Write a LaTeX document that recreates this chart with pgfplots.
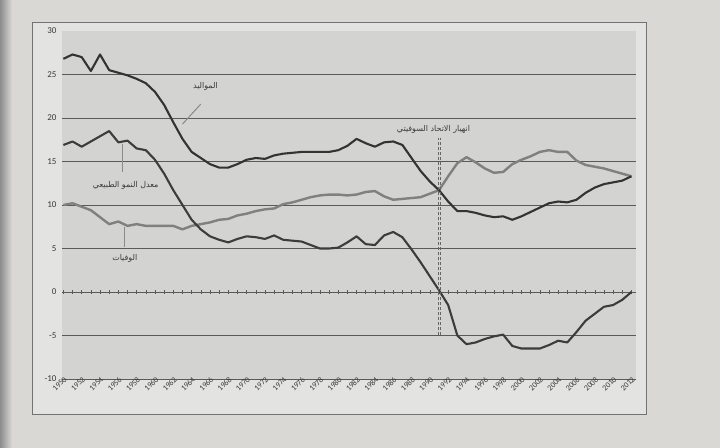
\documentclass[border=0pt]{standalone}
\usepackage{fontspec}
\usepackage{pgfplots}
\usepackage{pgfplotstable}
\pgfplotsset{compat=1.18}
\setmainfont{Carlito}
\newfontfamily\arabicfont[Script=Arabic]{DejaVu Sans}
\TeXXeTstate=1
\definecolor{pagecol}{HTML}{D9D8D5}
\definecolor{chartbg}{HTML}{E3E3E1}
\definecolor{plotbg}{HTML}{D3D3D1}
\definecolor{gridcol}{HTML}{5A5A5A}
\definecolor{birthcol}{HTML}{333333}
\definecolor{deathcol}{HTML}{808080}
\definecolor{growthcol}{HTML}{3C3C3C}
\definecolor{txtcol}{HTML}{3A3A3A}
\definecolor{pointcol}{HTML}{8A8A8A}

\pgfplotstableread{
year births deaths growth
1950 26.8 10.0 16.9
1951 27.3 10.2 17.3
1952 27.0 9.8 16.7
1953 25.4 9.4 17.3
1954 27.3 8.6 17.9
1955 25.5 7.8 18.5
1956 25.2 8.1 17.2
1957 24.9 7.6 17.4
1958 24.5 7.8 16.5
1959 24.0 7.6 16.3
1960 23.0 7.6 15.2
1961 21.5 7.6 13.6
1962 19.5 7.6 11.7
1963 17.6 7.2 10.0
1964 16.1 7.6 8.3
1965 15.4 7.8 7.2
1966 14.7 8.0 6.4
1967 14.3 8.3 6.0
1968 14.3 8.4 5.7
1969 14.7 8.8 6.1
1970 15.2 9.0 6.4
1971 15.4 9.3 6.3
1972 15.3 9.5 6.1
1973 15.7 9.6 6.5
1974 15.9 10.1 6.0
1975 16.0 10.3 5.9
1976 16.1 10.6 5.8
1977 16.1 10.9 5.4
1978 16.1 11.1 5.0
1979 16.1 11.2 5.0
1980 16.3 11.2 5.1
1981 16.8 11.1 5.7
1982 17.6 11.2 6.4
1983 17.1 11.5 5.5
1984 16.7 11.6 5.4
1985 17.2 11.0 6.5
1986 17.3 10.6 6.9
1987 16.9 10.7 6.3
1988 15.4 10.8 4.9
1989 13.9 10.9 3.4
1990 12.7 11.3 1.8
1991 11.7 11.7 0.2
1992 10.4 13.3 -1.5
1993 9.3 14.8 -5.0
1994 9.3 15.5 -6.0
1995 9.1 14.9 -5.8
1996 8.8 14.2 -5.4
1997 8.6 13.7 -5.1
1998 8.7 13.8 -4.9
1999 8.3 14.7 -6.2
2000 8.7 15.2 -6.5
2001 9.2 15.6 -6.5
2002 9.7 16.1 -6.5
2003 10.2 16.3 -6.1
2004 10.4 16.1 -5.6
2005 10.3 16.1 -5.8
2006 10.6 15.1 -4.6
2007 11.4 14.6 -3.3
2008 12.0 14.4 -2.5
2009 12.4 14.2 -1.7
2010 12.6 13.9 -1.5
2011 12.8 13.6 -0.9
2012 13.3 13.3 0.0
}\data

\begin{document}
\begin{tikzpicture}
\fill[pagecol] (0bp,0bp) rectangle (720bp,448bp);
\shade[left color=black!45, right color=pagecol] (0bp,0bp) rectangle (12bp,448bp);
\filldraw[fill=chartbg, draw=black!55, line width=0.8bp] (32bp,34bp) rectangle (646bp,426bp);
\fill[plotbg] (62bp,69bp) rectangle (636bp,417bp);
% zero line with yearly ticks
\begin{axis}[at={(62bp,69bp)}, anchor=south west, scale only axis,
  width=574bp, height=348bp,
  xmin=1949.85, xmax=2012.5, ymin=-10, ymax=30,
  axis x line=middle, axis y line=none,
  axis line style={-, draw=gridcol, line width=0.8bp},
  xtick={1950,1951,...,2012}, xticklabels={},
  xtick align=center, major tick length=4bp,
  tick style={draw=gridcol, line width=0.5bp}]
\end{axis}
\begin{axis}[at={(62bp,69bp)}, anchor=south west, scale only axis,
  width=574bp, height=348bp,
  xmin=1949.85, xmax=2012.5, ymin=-10, ymax=30,
  axis line style={draw=none},
  ytick={-10,-5,0,5,10,15,20,25},
  yticklabels={-10,-5,0,5,10,15,20,25},
  extra y ticks={30}, extra y tick labels={30},
  extra y tick style={grid=none},
  ymajorgrids, grid style={draw=gridcol, line width=0.8bp},
  major tick length=0pt,
  xtick={1950,1952,...,2012},
  xticklabels={1950,1952,1954,1956,1958,1960,1962,1964,1966,1968,1970,1972,1974,1976,1978,1980,1982,1984,1986,1988,1990,1992,1994,1996,1998,2000,2002,2004,2006,2008,2010,2012},
  xticklabel style={rotate=45, anchor=east, font=\fontsize{8}{8}\selectfont, text=txtcol, xshift=3bp, yshift=-1bp, inner sep=1bp},
  yticklabel style={font=\fontsize{9}{9}\selectfont, text=txtcol, xshift=-2bp},
  clip=false]
\addplot[draw=deathcol, line width=2.4bp, line join=round] table[x=year, y=deaths] {\data};
\addplot[draw=birthcol, line width=2.1bp, line join=round] table[x=year, y=births] {\data};
\addplot[draw=growthcol, line width=2.1bp, line join=round] table[x=year, y=growth] {\data};
% collapse line
\addplot[draw=black!60, line width=0.5bp, dash pattern=on 3bp off 2bp] coordinates {(1990.9,-5) (1990.9,17.7)};
\addplot[draw=black!60, line width=0.5bp, dash pattern=on 3bp off 2bp] coordinates {(1991.1,-5) (1991.1,17.7)};
% pointers
\addplot[draw=pointcol, line width=1bp] coordinates {(1963.0,19.3) (1965.0,21.6)};
\addplot[draw=pointcol, line width=1bp] coordinates {(1956.5,17.0) (1956.5,13.8)};
\addplot[draw=pointcol, line width=1bp] coordinates {(1956.7,7.5) (1956.7,5.2)};
\node[font=\arabicfont\fontsize{8}{9}\selectfont, text=txtcol] at (axis cs:1965.5,23.6) {\beginR المواليد\endR};
\node[font=\arabicfont\fontsize{8}{9}\selectfont, text=txtcol] at (axis cs:1956.8,12.3) {\beginR معدل النمو الطبيعي\endR};
\node[font=\arabicfont\fontsize{8}{9}\selectfont, text=txtcol] at (axis cs:1956.7,3.9) {\beginR الوفيات\endR};
\node[font=\arabicfont\fontsize{8}{9}\selectfont, text=txtcol] at (axis cs:1990.4,18.7) {\beginR انهيار الاتحاد السوفيتي\endR};
\end{axis}
\end{tikzpicture}
\end{document}
